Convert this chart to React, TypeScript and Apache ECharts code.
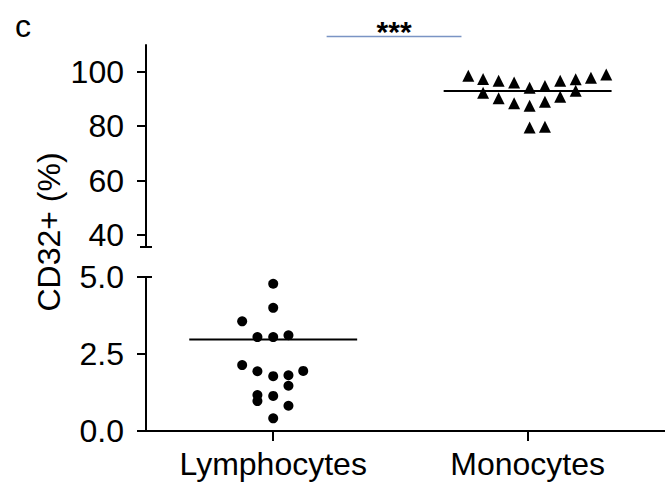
import React, { useEffect, useRef } from "react";
import * as echarts from "echarts";

const categories = ["Lymphocytes", "Monocytes"];
const topTicks = [40, 60, 80, 100];
const bottomTicks = [0, 2.5, 5];
const catTicks = [1, 2];

const lymphX = [1.0, 1.0, 0.878, 0.938, 1.0, 1.06, 0.878, 0.938, 1.118, 1.0, 1.06, 1.06, 0.938, 0.938, 1.0, 1.06, 1.0];
const lymphY = [4.78, 4.0, 3.56, 3.05, 3.05, 3.11, 2.14, 1.94, 1.95, 1.78, 1.81, 1.47, 1.17, 0.97, 1.14, 0.82, 0.41];

const monoX = [
  1.767, 1.825, 1.886, 1.947, 2.008, 2.068, 2.128, 2.189, 2.249, 2.309,
  1.825, 1.886, 1.947, 2.008, 2.068, 2.128, 2.189,
  2.008, 2.068,
];
const monoY = [
  98.5, 97.3, 96.7, 96.0, 94.1, 94.7, 96.7, 97.2, 97.8, 99.0,
  92.3, 90.2, 88.4, 87.5, 89.0, 90.8, 93.0,
  79.5, 79.8,
];

const lymphLine = 2.97;
const monoLine = 92.9;
const lineHalf = 0.33;
const sigRange = [1.21, 1.74];
const sigLevel = 112.9;
const sigText = "***";
const panelLetter = "c";
const yTitle = "CD32+ (%)";

const FONT = "'Liberation Sans', Arial, sans-serif";
const FS = 32;

export default function App() {
  const ref = useRef<HTMLDivElement>(null);
  useEffect(() => {
    if (!ref.current) return;
    const chart = echarts.init(ref.current, undefined, { renderer: "svg" });
    const axisLine = { lineStyle: { color: "#000", width: 2 } };
    const labelStyle = { color: "#000", fontSize: FS, fontFamily: FONT };
    chart.setOption({
      animation: false,
      backgroundColor: "#fff",
      grid: [
        { left: 146, top: 45, right: 0, height: 202 },
        { left: 146, top: 277, right: 0, height: 154 },
      ],
      xAxis: [
        { gridIndex: 0, type: "value", min: 0.5, max: 2.54, show: false },
        {
          gridIndex: 1,
          type: "value",
          min: 0.5,
          max: 2.54,
          axisLine: { show: true, onZero: false, ...axisLine },
          axisTick: { show: true, length: 10, customValues: catTicks, lineStyle: { color: "#000", width: 2 } },
          axisLabel: {
            ...labelStyle,
            margin: 17,
            customValues: catTicks,
            formatter: (v: number) => categories[Math.round(v) - 1] ?? "",
          },
          splitLine: { show: false },
        },
      ],
      yAxis: [
        {
          gridIndex: 0,
          type: "value",
          min: 35.6,
          max: 109.8,
          axisLine: { show: true, ...axisLine, symbol: ["rect", "none"], symbolSize: [12, 2] },
          axisTick: { show: true, length: 9, customValues: topTicks, lineStyle: { color: "#000", width: 2 } },
          axisLabel: { ...labelStyle, margin: 22, customValues: topTicks },
          splitLine: { show: false },
        },
        {
          gridIndex: 1,
          type: "value",
          min: 0,
          max: 5,
          axisLine: { show: true, ...axisLine, symbol: ["none", "rect"], symbolSize: [12, 2] },
          axisTick: { show: true, length: 9, customValues: bottomTicks, lineStyle: { color: "#000", width: 2 } },
          axisLabel: {
            ...labelStyle,
            margin: 22,
            customValues: bottomTicks,
            formatter: (v: number) => v.toFixed(1),
          },
          splitLine: { show: false },
        },
      ],
      series: [
        {
          type: "scatter",
          xAxisIndex: 1,
          yAxisIndex: 1,
          symbol: "circle",
          symbolSize: 10,
          itemStyle: { color: "#000", opacity: 1 },
          data: lymphX.map((x, i) => [x, lymphY[i]]),
        },
        {
          type: "scatter",
          xAxisIndex: 0,
          yAxisIndex: 0,
          symbol: "triangle",
          symbolSize: [12, 12],
          itemStyle: { color: "#000", opacity: 1 },
          data: monoX.map((x, i) => [x, monoY[i]]),
        },
        {
          type: "line",
          xAxisIndex: 1,
          yAxisIndex: 1,
          symbol: "none",
          lineStyle: { color: "#000", width: 2 },
          data: [
            [1 - lineHalf, lymphLine],
            [1 + lineHalf, lymphLine],
          ],
        },
        {
          type: "line",
          xAxisIndex: 0,
          yAxisIndex: 0,
          symbol: "none",
          lineStyle: { color: "#000", width: 2 },
          data: [
            [2 - lineHalf, monoLine],
            [2 + lineHalf, monoLine],
          ],
        },
        {
          type: "line",
          xAxisIndex: 0,
          yAxisIndex: 0,
          symbol: "none",
          clip: false,
          lineStyle: { color: "#7a94c4", width: 1.5 },
          data: [
            [sigRange[0], sigLevel],
            [sigRange[1], sigLevel],
          ],
        },
        {
          type: "scatter",
          xAxisIndex: 0,
          yAxisIndex: 0,
          clip: false,
          symbolSize: 0,
          itemStyle: { opacity: 1 },
          label: {
            show: true,
            position: "inside",
            offset: [0, -5],
            formatter: sigText,
            color: "#000",
            fontSize: 30,
            fontWeight: "bold",
            fontFamily: FONT,
          },
          data: [[(sigRange[0] + sigRange[1]) / 2, sigLevel]],
        },
      ],
      graphic: [
        {
          type: "text",
          left: 15,
          top: 10,
          style: { text: panelLetter, fill: "#000", fontSize: FS, fontFamily: FONT },
        },
        {
          type: "text",
          x: 49,
          y: 232,
          rotation: Math.PI / 2,
          style: {
            text: yTitle,
            fill: "#000",
            fontSize: FS,
            fontFamily: FONT,
            align: "center",
            verticalAlign: "middle",
          },
        },
      ],
    });
    return () => chart.dispose();
  }, []);
  return (
    <div
      ref={ref}
      style={{ position: "fixed", left: 0, top: 0, width: 665, height: 483, background: "#fff" }}
    />
  );
}
